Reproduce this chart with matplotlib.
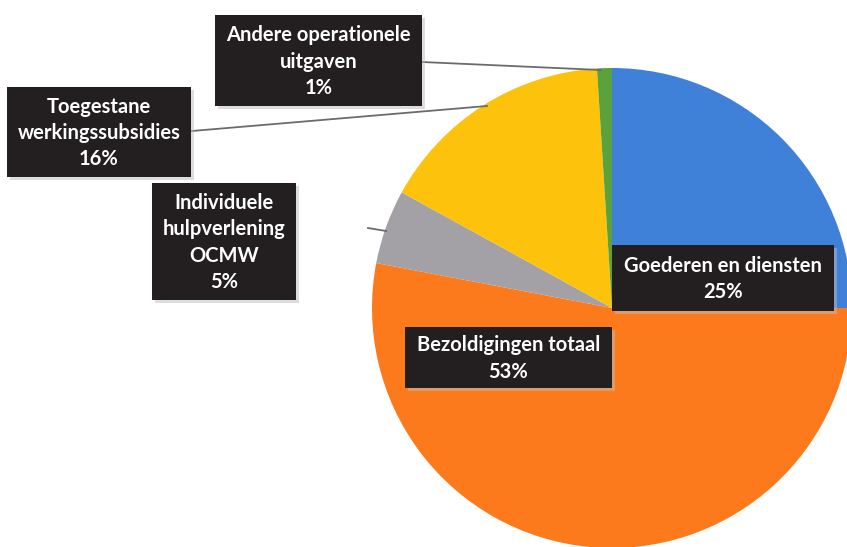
import matplotlib
matplotlib.use("Agg")
import matplotlib.pyplot as plt
from matplotlib.patches import Rectangle

categories = ["Goederen en diensten", "Bezoldigingen totaal",
              "Individuele\nhulpverlening\nOCMW", "Toegestane\nwerkingssubsidies",
              "Andere operationele\nuitgaven"]
values = [25, 53, 5, 16, 1]
colors = ["#3f80d8", "#fc7a1c", "#a3a0a6", "#fcc20c", "#5aa23c"]

W, H = 847, 547
fig = plt.figure(figsize=(W / 100, H / 100), dpi=100)
ax = fig.add_axes([0, 0, 1, 1])

cx, cy, r = 612, 308, 240
wedges, _ = ax.pie(values, colors=colors, startangle=-90, counterclock=True,
                   center=(cx, cy), radius=r, frame=True,
                   wedgeprops=dict(linewidth=0))
ax.set_xlim(0, W)
ax.set_ylim(H, 0)
ax.set_aspect("equal")
ax.axis("off")

# leader lines
ax.plot([422, 601], [62, 70], color="#6b6b6b", lw=1.3, zorder=5)
ax.plot([192, 487], [131, 106], color="#6b6b6b", lw=1.3, zorder=5)
ax.plot([368, 386], [228, 231], color="#6b6b6b", lw=1.3, zorder=5)

boxes = [
    (612, 245, 222, 66),   # Goederen
    (405, 327, 207, 61),   # Bezoldigingen
    (152, 183, 144, 117),  # Individuele
    (7, 87, 184, 90),      # Toegestane
    (215, 15, 207, 91),    # Andere
]
for (x, y, w, h), name, v in zip(boxes, categories, values):
    ax.add_patch(Rectangle((x + 3, y + 3), w, h, fc="#bdbdbd", ec="none", alpha=0.5, zorder=6))
    ax.add_patch(Rectangle((x, y), w, h, fc="#231f20", ec="none", zorder=7))
    ax.text(x + w / 2, y + h / 2 + 1, f"{name}\n{v}%", ha="center", va="center",
            color="white", fontsize=14.5, fontweight="bold", family="Lato",
            linespacing=1.4, zorder=8)

fig.savefig("out.png", dpi=100)
